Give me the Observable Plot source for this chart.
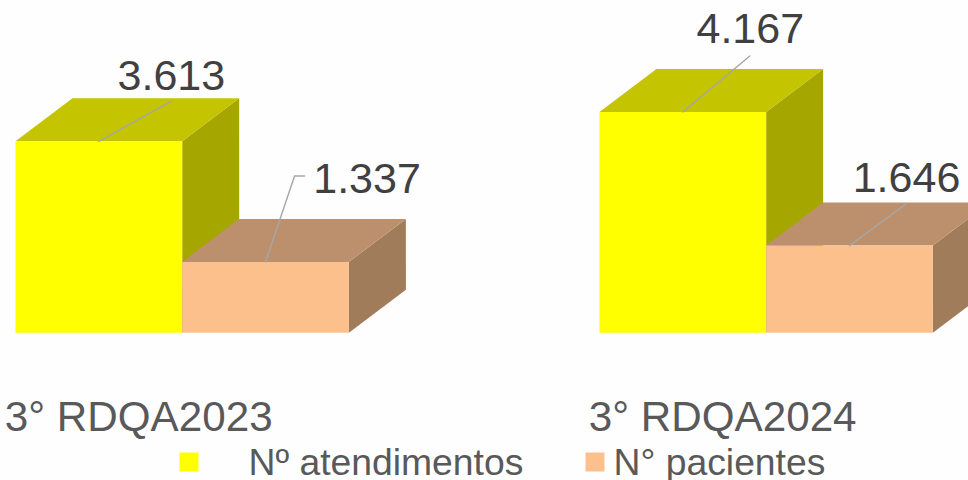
<!DOCTYPE html>
<html>
<head>
<meta charset="utf-8">
<script src="https://cdn.jsdelivr.net/npm/d3@7"></script>
<script src="https://cdn.jsdelivr.net/npm/@observablehq/plot@0.6"></script>
<style>html,body{margin:0;padding:0;background:#fefefe}</style>
</head>
<body>
<div id="chart"></div>
<script>
// Data
const categories = ["3° RDQA2023", "3° RDQA2024"];
const seriesNames = ["Nº atendimentos", "N° pacientes"];
const atendimentos = [3613, 4167];
const pacientes = [1337, 1646];

// Colours: front, top and side face of each series
const frontColors = ["#ffff00", "#fcc08c"];
const topColors = ["#c4c400", "#bd906d"];
const sideColors = ["#a6a600", "#a17c5b"];

// Chart geometry, in scale units
const pxPerBar = 166.7, pxPerValue = 0.053, baseX = 15, baseY = 332.3;
const groupStarts = [0, 3.503];
const depthX = 57 / pxPerBar, depthY = 43 / pxPerValue;
const W = 968, H = 480;
const ux = (dx) => dx / pxPerBar;         // pixel distance -> x units
const uy = (dy) => -dy / pxPerValue;      // pixel distance -> y units

const fmt = d3.formatLocale({decimal: ",", thousands: ".", grouping: [3], currency: ["", ""]}).format(",d");
const series = [atendimentos, pacientes];

const bars = [];
groupStarts.forEach((g, gi) => series.forEach((vals, si) => {
  bars.push({group: gi, s: si, x0: g + si, x1: g + si + 1, v: vals[gi]});
}));

// Faces as closed polygons, back to front
const faces = [];
bars.forEach((b, i) => {
  const poly = (name, color, pts) => pts.forEach(([x, y], k) =>
    faces.push({id: `${i}-${name}`, order: i, color, x, y, k}));
  poly("side", sideColors[b.s], [[b.x1, 0], [b.x1 + depthX, depthY], [b.x1 + depthX, b.v + depthY], [b.x1, b.v], [b.x1, 0]]);
  poly("top", topColors[b.s], [[b.x0, b.v], [b.x0 + depthX, b.v + depthY], [b.x1 + depthX, b.v + depthY], [b.x1, b.v], [b.x0, b.v]]);
  poly("front", frontColors[b.s], [[b.x0, 0], [b.x0, b.v], [b.x1, b.v], [b.x1, 0], [b.x0, 0]]);
});

// Leader lines: pixel bends from the bar's front top centre, then label offset
const leaderBends = [
  [[72, -40]],
  [[29, -86], [39, -86]],
  [[67, -56]],
  [[57, -42]]
];
const labelOffsets = [[0.5, -11], [62.5, 17], [0.5, -13], [0, -12]];

const leaders = [];
const labels = [];
bars.forEach((b, i) => {
  const cx = (b.x0 + b.x1) / 2;
  leaders.push({id: i, x: cx, y: b.v});
  leaderBends[i].forEach(([dx, dy]) => leaders.push({id: i, x: cx + ux(dx), y: b.v + uy(dy)}));
  const [ex, ey] = leaderBends[i][leaderBends[i].length - 1];
  labels.push({x: cx + ux(ex + labelOffsets[i][0]), y: b.v + uy(ey + labelOffsets[i][1]), text: fmt(b.v)});
});

const catLabels = categories.map((c, i) => ({x: groupStarts[i] + 1 + ux(-43.5), y: uy(430 - baseY), text: c}));
const legendY = uy(474.5 - baseY);
const legendItems = seriesNames.map((n, i) => ({
  name: n,
  color: frontColors[i],
  sx: ux([188.5, 594.5][i] - baseX),
  tx: ux([248, 613][i] - baseX),
  sy: uy(461.5 - baseY)
}));

const chart = Plot.plot({
  width: W, height: H,
  marginTop: 0, marginRight: 0, marginBottom: 0, marginLeft: 0,
  x: {axis: null, domain: [ux(-baseX), ux(W - baseX)], range: [0, W]},
  y: {axis: null, domain: [uy(H - baseY), uy(-baseY)], range: [H, 0]},
  style: {background: "#fefefe", fontFamily: "'Liberation Sans', Arial, sans-serif"},
  marks: [
    Plot.line(faces, {x: "x", y: "y", z: "id", fill: "color", curve: "linear-closed", sort: null}),
    Plot.line(leaders, {x: "x", y: "y", z: "id", stroke: "#a6a6a6", strokeWidth: 1.4, curve: "linear"}),
    Plot.text(labels, {x: "x", y: "y", text: "text", fill: "#404040", fontSize: 43, textAnchor: "middle", lineAnchor: "bottom"}),
    Plot.text(catLabels, {x: "x", y: "y", text: "text", fill: "#595959", fontSize: 42.2, textAnchor: "middle", lineAnchor: "bottom"}),
    Plot.dot(legendItems, {x: "sx", y: "sy", fill: "color", symbol: "square", r: 10.7}),
    Plot.text(legendItems, {x: "tx", y: () => legendY, text: "name", fill: "#595959", fontSize: 37.3, textAnchor: "start", lineAnchor: "bottom"})
  ]
});
document.getElementById("chart").appendChild(chart);
</script>
</body>
</html>
